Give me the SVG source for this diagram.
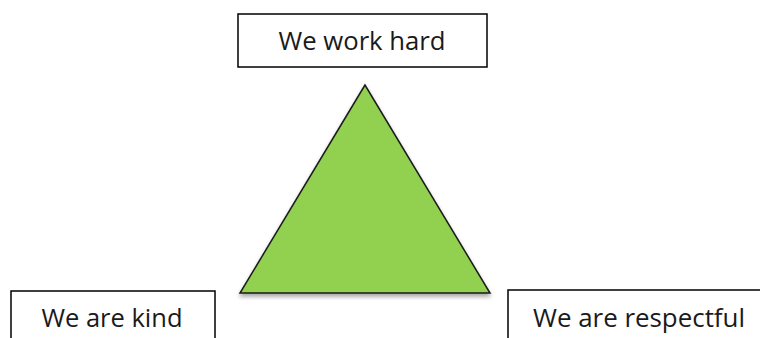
<svg xmlns="http://www.w3.org/2000/svg" width="760" height="338" viewBox="0 0 760 338">
  <style>
    .box { fill: #ffffff; stroke: #000000; stroke-width: 1.5; }
    .label { font-family: "Open Sans", "Liberation Sans", sans-serif; font-size: 25px; fill: #1a1a1a; text-anchor: middle; }
  </style>
  <defs>
    <filter id="shadow" x="-20%" y="-20%" width="140%" height="140%">
      <feGaussianBlur in="SourceAlpha" stdDeviation="2"/>
      <feOffset dx="0" dy="3" result="b"/>
      <feComponentTransfer><feFuncA type="linear" slope="0.35"/></feComponentTransfer>
      <feMerge><feMergeNode/><feMergeNode in="SourceGraphic"/></feMerge>
    </filter>
  </defs>
  <rect width="760" height="338" fill="#ffffff"/>

  <!-- central triangle -->
  <g id="triangle">
    <polygon points="365,85 240,293 490,293" fill="#92d050" stroke="#1a1a1a" stroke-width="1.5" stroke-linejoin="miter" filter="url(#shadow)"/>
  </g>

  <g id="node-top">
    <rect class="box" x="238" y="14" width="249" height="53"/>
    <text class="label" x="362" y="50" textLength="167" lengthAdjust="spacingAndGlyphs">We work hard</text>
  </g>

  <g id="node-left">
    <rect class="box" x="11" y="291" width="204" height="60"/>
    <text class="label" x="112" y="327" textLength="141" lengthAdjust="spacingAndGlyphs">We are kind</text>
  </g>

  <g id="node-right">
    <rect class="box" x="508" y="290" width="270" height="60"/>
    <text class="label" x="639" y="327" textLength="212" lengthAdjust="spacingAndGlyphs">We are respectful</text>
  </g>

  <g id="connectors"></g>
</svg>
